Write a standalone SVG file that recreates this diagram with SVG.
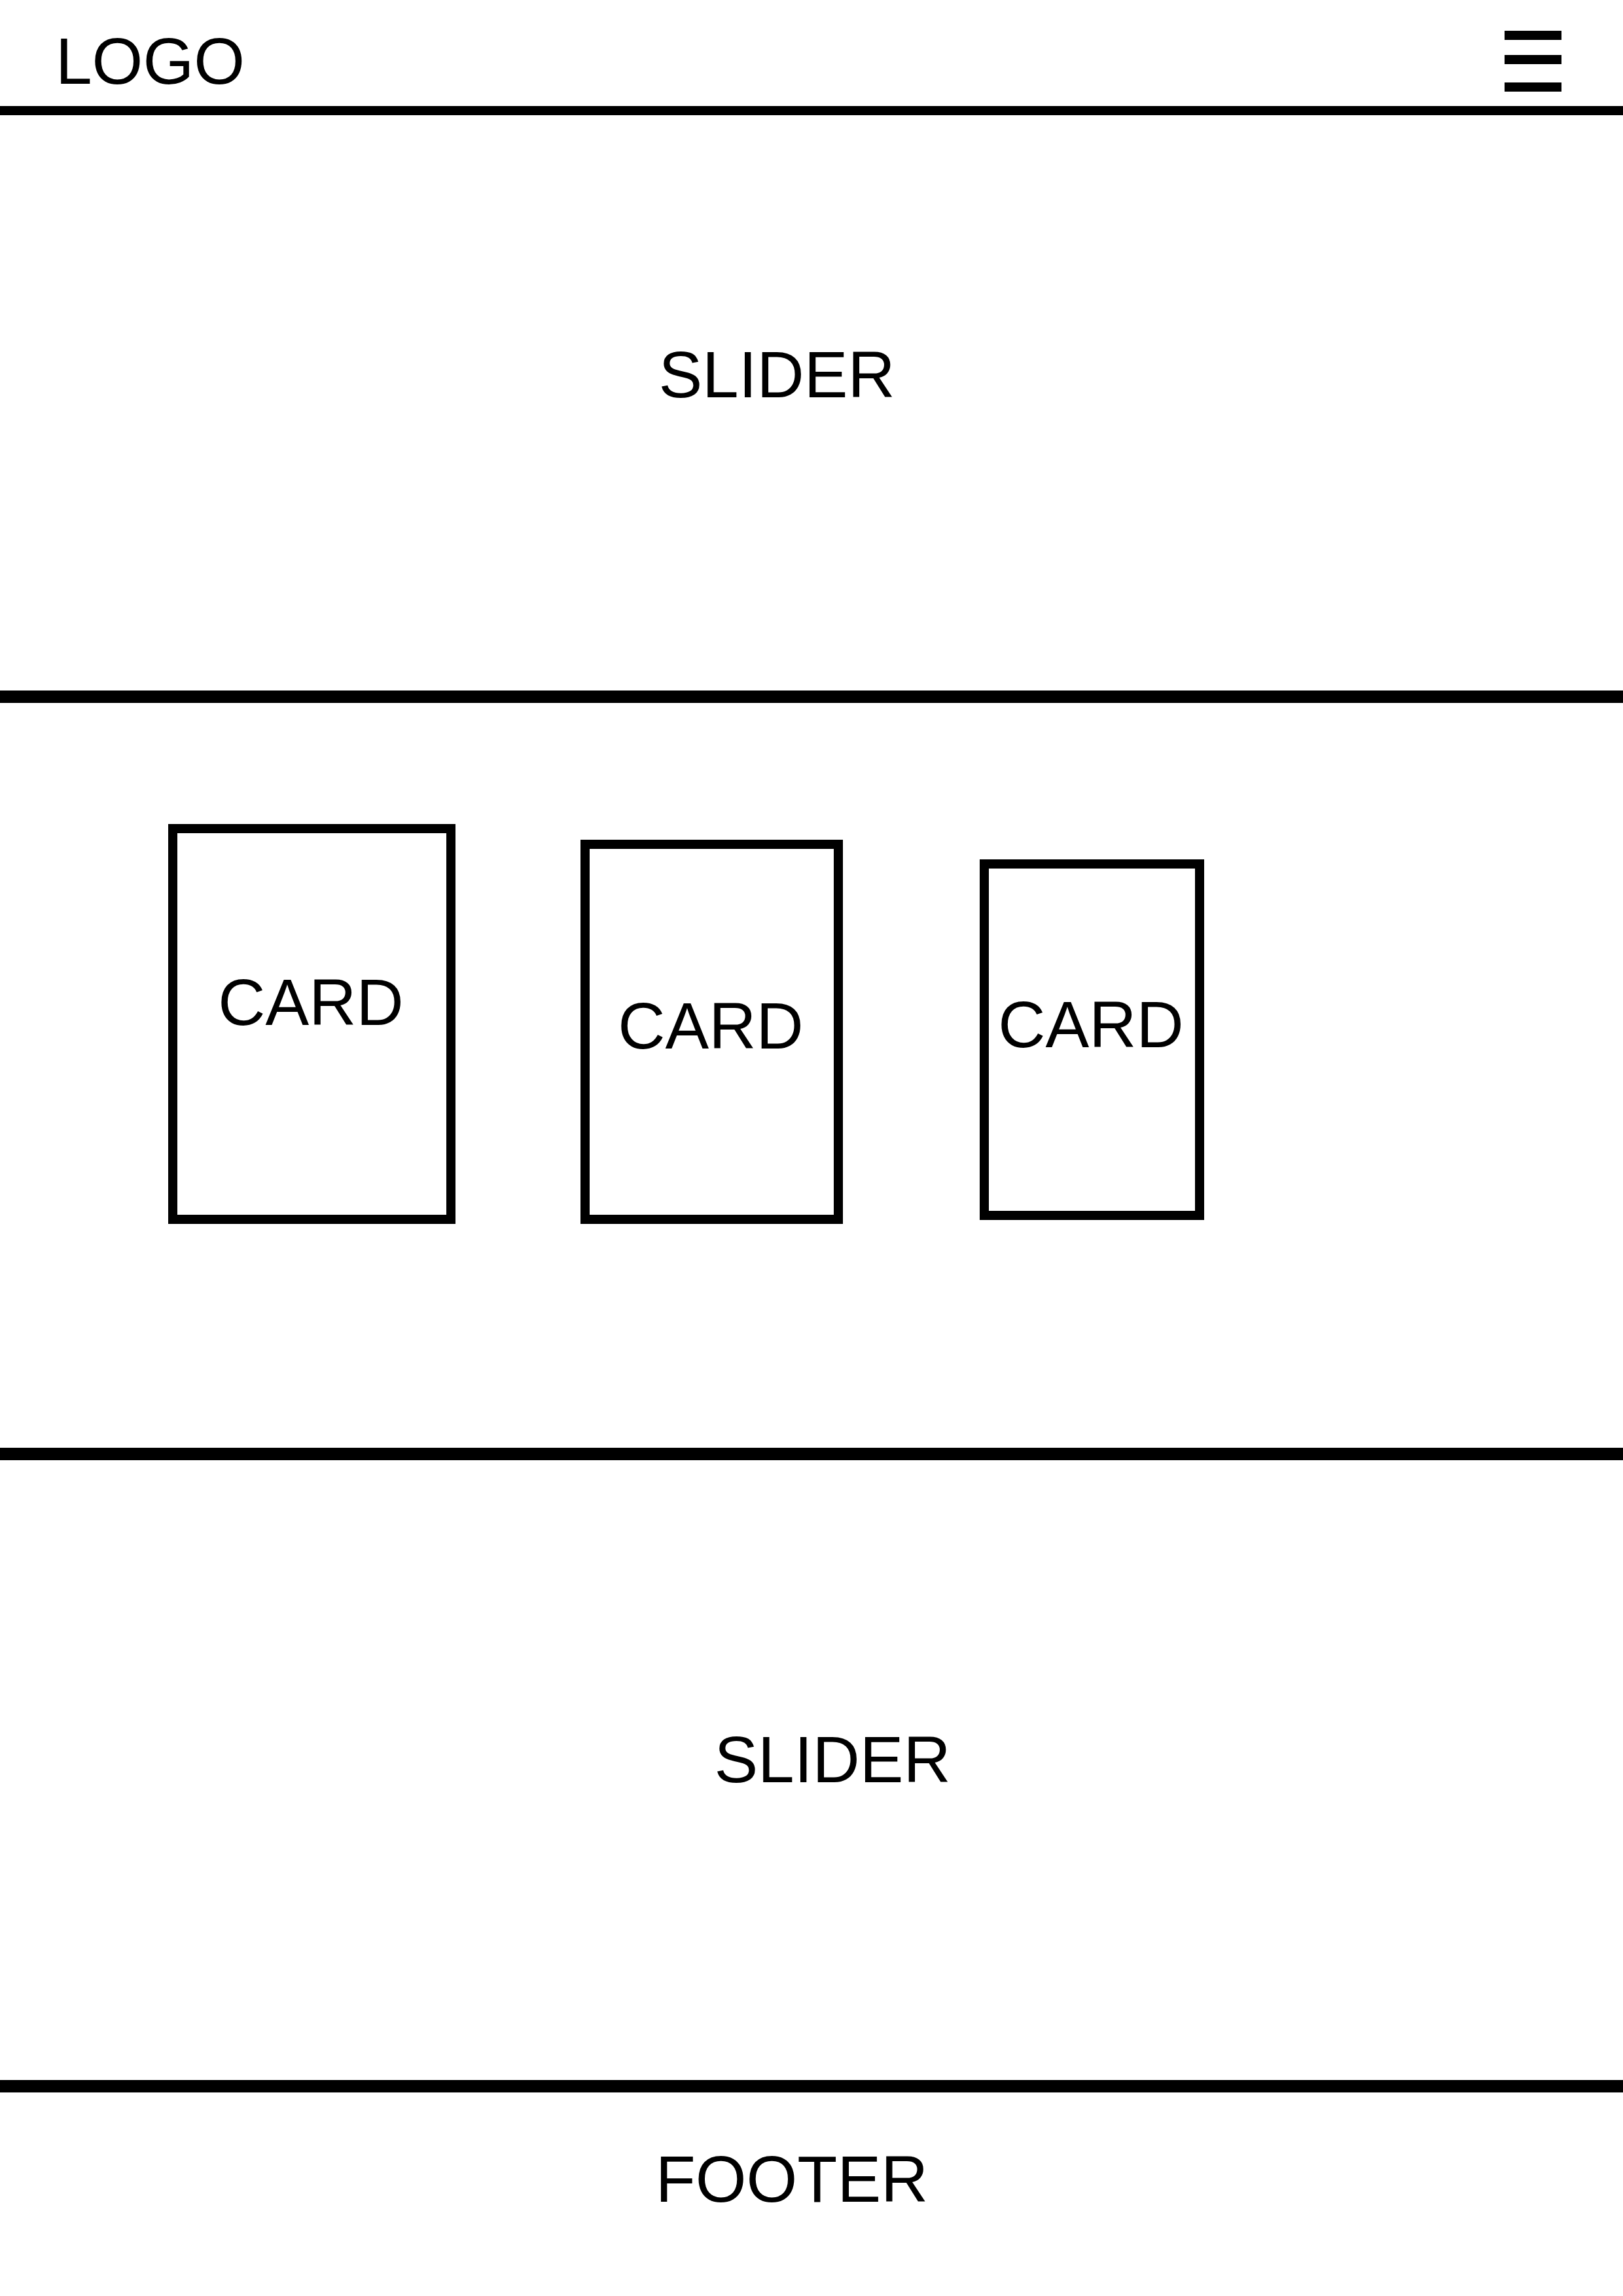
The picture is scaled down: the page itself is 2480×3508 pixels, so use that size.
<svg xmlns="http://www.w3.org/2000/svg" width="2480" height="3508" viewBox="0 0 2480 3508">
<style>
.lbl{font-family:"Liberation Sans",Arial,sans-serif;font-size:100px;fill:#000}
.card{fill:#fff;stroke:#000;stroke-width:14}
.div{stroke:#000;stroke-width:19}
.bar{fill:#000}
</style>
<rect x="0" y="0" width="2480" height="3508" fill="#fff"/>
<g id="header">
<text class="lbl" x="85" y="128">LOGO</text>
<g id="menu">
<rect class="bar" x="2299" y="47" width="87" height="14"/>
<rect class="bar" x="2299" y="84" width="87" height="14"/>
<rect class="bar" x="2299" y="126" width="87" height="14"/>
</g>
</g>
<g id="dividers">
<line x1="0" y1="169" x2="2480" y2="169" stroke="#000" stroke-width="14"/>
<line class="div" x1="0" y1="1064.5" x2="2480" y2="1064.5"/>
<line class="div" x1="0" y1="2221.5" x2="2480" y2="2221.5"/>
<line class="div" x1="0" y1="3187.5" x2="2480" y2="3187.5"/>
</g>
<g id="slider1"><text class="lbl" x="1187" y="607" text-anchor="middle">SLIDER</text></g>
<g id="card1">
<rect class="card" x="264" y="1266" width="425" height="597"/>
<text class="lbl" x="475" y="1566" text-anchor="middle">CARD</text>
</g>
<g id="card2">
<rect class="card" x="894" y="1290" width="387" height="573"/>
<text class="lbl" x="1086" y="1602" text-anchor="middle">CARD</text>
</g>
<g id="card3">
<rect class="card" x="1504" y="1320" width="329" height="537"/>
<text class="lbl" x="1667" y="1600" text-anchor="middle">CARD</text>
</g>
<g id="slider2"><text class="lbl" x="1272" y="2723" text-anchor="middle">SLIDER</text></g>
<g id="footer"><text class="lbl" x="1210" y="3364" text-anchor="middle">FOOTER</text></g>
</svg>
